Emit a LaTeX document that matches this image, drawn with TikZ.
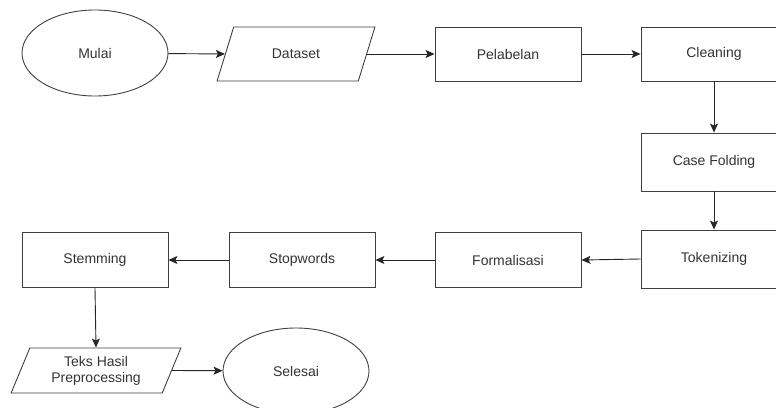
\documentclass[tikz,border=0pt]{standalone}
\usepackage{fontspec}
\setmainfont{Liberation Sans}
\usetikzlibrary{positioning,shapes.geometric,arrows.meta}

\begin{document}
\begin{tikzpicture}[x=1pt,y=-1pt,
        line width=0.9pt, >={Stealth[length=9pt,width=8pt,inset=2pt]},
        every node/.style={font=\fontsize{14}{16}\selectfont, text=black!80},
        prosesbox/.style={draw=black!75, rectangle, minimum width=146pt, minimum height=54pt},
        terminal/.style={draw=black!75, ellipse, minimum width=146pt, minimum height=86pt},
        datain/.style={draw=black!75, trapezium, trapezium left angle=67, trapezium right angle=113,
            trapezium stretches=true, minimum height=54pt, inner xsep=2pt},
        panah/.style={draw=black!85, ->}]
        \useasboundingbox (0,0) rectangle (776,407);
        \clip (0,0) rectangle (776,407);
        % baris atas
        \node[terminal] (mulai) at (95,53) {Mulai};
        \node[datain, minimum width=158pt] (dataset) at (296,54) {Dataset};
        \node[prosesbox] (pelabelan) at (508,54) {Pelabelan};
        \node[prosesbox] (cleaning) at (714,54) {Cleaning};
        % kolom kanan
        \node[prosesbox, minimum height=58pt] (casefolding) at (714,162) {Case Folding};
        \node[prosesbox, minimum height=58pt] (tokenizing) at (714,259) {Tokenizing};
        % baris tengah
        \node[prosesbox, minimum height=55pt] (formalisasi) at (508,260) {Formalisasi};
        \node[prosesbox, minimum height=55pt] (stopwords) at (302,260) {Stopwords};
        \node[prosesbox, minimum height=55pt] (stemming) at (95,260) {Stemming};
        % baris bawah
        \node[datain, minimum width=170pt, minimum height=45pt, align=center, inner ysep=1pt] (hasil) at (96,370.5) {Teks Hasil\\Preprocessing};
        \node[terminal] (selesai) at (296,371) {Selesai};

        \draw[panah] (mulai) -- (dataset.west);
        \draw[panah] (dataset.east) -- (pelabelan);
        \draw[panah] (pelabelan) -- (cleaning);
        \draw[panah] (cleaning) -- (casefolding);
        \draw[panah] (casefolding) -- (tokenizing);
        \draw[panah] (tokenizing.west) -- (formalisasi.east);
        \draw[panah] (formalisasi) -- (stopwords);
        \draw[panah] (stopwords) -- (stemming);
        \draw[panah] (stemming.south) -- (hasil.north);
        \draw[panah] (hasil.east) -- (selesai);
    \end{tikzpicture}
\end{document}
